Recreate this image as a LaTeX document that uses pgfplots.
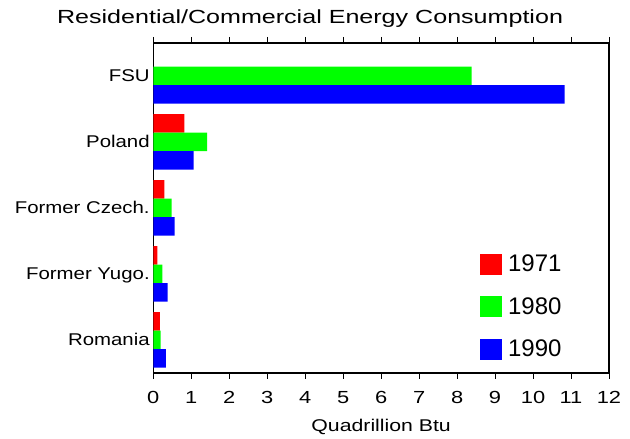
\documentclass[border=0pt]{standalone}
\usepackage{fontspec}
\setmainfont{Liberation Sans}
\newfontfamily\tfont[FakeStretch=1.32]{Liberation Sans}
\newfontfamily\afont[FakeStretch=1.25]{Liberation Sans}
\newfontfamily\yfont[FakeStretch=1.2]{Liberation Sans}
\usepackage{pgfplots}
\pgfplotsset{compat=1.18}
\definecolor{cred}{RGB}{255,0,0}
\definecolor{cgreen}{RGB}{0,255,0}
\definecolor{cblue}{RGB}{0,0,255}
\begin{document}
\begin{tikzpicture}
\begin{axis}[
  scale only axis, width=455.7pt, height=330pt,
  xmin=0, xmax=12, ymin=-0.5, ymax=4.5,
  xtick={0,1,2,3,4,5,6,7,8,9,10,11,12},
  ytick={0,1,2,3,4},
  yticklabels={Romania, Former Yugo., Former Czech., Poland, FSU},
  xbar, bar width=18.5pt,
  axis line style={line width=1.1pt},
  tick align=outside,
  major tick length=6pt,
  x tick style={line width=1pt, black},
  y tick style={draw=none},
  /pgf/number format/assume math mode=true,
  x tick label style={font=\afont\fontsize{17.5}{20}\selectfont, anchor=north, inner sep=0pt, yshift=-12.5pt},
  y tick label style={font=\yfont\fontsize{17}{20}\selectfont, anchor=base east, inner sep=0pt, yshift=-6pt, xshift=2.6pt},
  xlabel={Quadrillion Btu},
  xlabel style={font=\afont\fontsize{17}{20}\selectfont, at={(axis description cs:0.5,-0.178)}, anchor=base, inner sep=0pt},
  title={Residential/Commercial Energy Consumption},
  title style={font=\tfont\fontsize{19}{22}\selectfont, at={(axis description cs:0.344,1.042)}, anchor=base, inner sep=0pt},
  legend cell align=left,
  legend style={at={(axis description cs:0.716,0.361)}, anchor=north west, draw=none, fill=none,
    inner sep=0pt, outer sep=0pt, row sep=21.5pt,
    font=\fontsize{24}{28}\selectfont,
    nodes={inner sep=0pt},
    /tikz/every odd column/.style={column sep=6.5pt}},
]
\addplot[fill=cred, draw=none, bar shift=18.5pt,
  legend image code/.code={\fill[cred] (0pt,-10.5pt) rectangle (22pt,10.5pt);}]
  coordinates {(0.17,0) (0.11,1) (0.29,2) (0.82,3)};
\addlegendentry{1971}
\addplot[fill=cgreen, draw=none, bar shift=0pt,
  legend image code/.code={\fill[cgreen] (0pt,-10.5pt) rectangle (22pt,10.5pt);}]
  coordinates {(0.19,0) (0.24,1) (0.48,2) (1.42,3) (8.38,4)};
\addlegendentry{1980}
\addplot[fill=cblue, draw=none, bar shift=-18.5pt,
  legend image code/.code={\fill[cblue] (0pt,-10.5pt) rectangle (22pt,10.5pt);}]
  coordinates {(0.33,0) (0.38,1) (0.56,2) (1.06,3) (10.83,4)};
\addlegendentry{1990}
\end{axis}
\pgfresetboundingbox
\path ([shift={(-153.3pt,-66pt)}]current axis.south west) rectangle ([shift={(21pt,43pt)}]current axis.north east);
\end{tikzpicture}
\end{document}
